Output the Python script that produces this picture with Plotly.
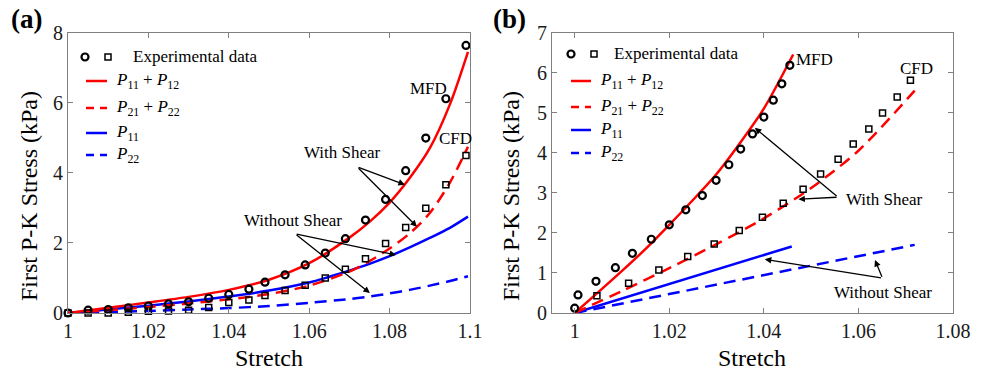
import plotly.graph_objects as go

# ---------------- panel (a) ----------------
a_exp_stretch = [1.0, 1.005, 1.01, 1.015, 1.02, 1.025, 1.03, 1.035, 1.04, 1.045, 1.049,
                 1.054, 1.059, 1.064, 1.069, 1.074, 1.079, 1.084, 1.089, 1.094, 1.099]
a_mfd_exp = [0.0, 0.08, 0.10, 0.15, 0.20, 0.26, 0.32, 0.42, 0.53, 0.68, 0.88,
             1.09, 1.37, 1.71, 2.12, 2.65, 3.24, 4.06, 4.99, 6.11, 7.63]
a_cfd_exp = [0.0, 0.0, 0.0, 0.02, 0.05, 0.06, 0.08, 0.16, 0.30, 0.37, 0.50,
             0.64, 0.79, 1.00, 1.25, 1.55, 1.98, 2.44, 2.99, 3.66, 4.49]

a_curve_s = [1.0, 1.01, 1.02, 1.03, 1.04, 1.05, 1.06, 1.07, 1.075, 1.08, 1.085, 1.09,
             1.095, 1.0995]
a_p1112 = [0.0, 0.15, 0.30, 0.46, 0.66, 0.95, 1.42, 2.15, 2.60, 3.15, 3.85, 4.70,
           5.95, 7.45]
a_p2122 = [0.0, 0.08, 0.17, 0.27, 0.39, 0.54, 0.78, 1.18, 1.48, 1.84, 2.27, 2.85,
           3.72, 4.74]
a_p11 = [0.0, 0.10, 0.21, 0.33, 0.47, 0.64, 0.87, 1.21, 1.40, 1.62, 1.87, 2.14,
         2.43, 2.75]
a_p22 = [0.0, 0.03, 0.06, 0.10, 0.14, 0.20, 0.29, 0.40, 0.47, 0.56, 0.66, 0.78,
         0.91, 1.05]

# ---------------- panel (b) ----------------
b_mfd_s = [1.0, 1.0007, 1.0045, 1.0086, 1.0122, 1.0162, 1.02, 1.0235, 1.027, 1.0299,
           1.0326, 1.0351, 1.0376, 1.04, 1.042, 1.0438, 1.0455]
b_mfd_v = [0.12, 0.45, 0.79, 1.13, 1.49, 1.84, 2.20, 2.575, 2.93, 3.31,
           3.70, 4.09, 4.47, 4.89, 5.31, 5.72, 6.18]
b_cfd_s = [1.0047, 1.0114, 1.0178, 1.0239, 1.0295, 1.0348, 1.0397, 1.0441, 1.0483,
           1.052, 1.0557, 1.0589, 1.0622, 1.0651, 1.0682, 1.071]
b_cfd_v = [0.43, 0.74, 1.075, 1.41, 1.725, 2.06, 2.39, 2.74, 3.09,
           3.47, 3.84, 4.22, 4.59, 4.99, 5.39, 5.81]

b_p1112_s = [1.0, 1.005, 1.01, 1.015, 1.02, 1.025, 1.03, 1.035, 1.04, 1.0462]
b_p1112_v = [0.0, 0.52, 1.05, 1.60, 2.20, 2.82, 3.47, 4.25, 5.10, 6.45]
b_p2122_s = [1.0, 1.01, 1.02, 1.03, 1.04, 1.05, 1.06, 1.0719]
b_p2122_v = [0.0, 0.55, 1.12, 1.72, 2.36, 3.12, 4.05, 5.55]
b_p11_s = [1.0, 1.0459]
b_p11_v = [0.0, 1.66]
b_p22_s = [1.0, 1.0719]
b_p22_v = [0.0, 1.70]

a_xticks = [1.0, 1.02, 1.04, 1.06, 1.08, 1.1]
a_xlabels = ["1", "1.02", "1.04", "1.06", "1.08", "1.1"]
b_xticks = [1.0, 1.02, 1.04, 1.06, 1.08]
b_xlabels = ["1", "1.02", "1.04", "1.06", "1.08"]

legend_labels = ["Experimental data",
                 "<i>P</i><sub>11</sub> + <i>P</i><sub>12</sub>",
                 "<i>P</i><sub>21</sub> + <i>P</i><sub>22</sub>",
                 "<i>P</i><sub>11</sub>",
                 "<i>P</i><sub>22</sub>"]

RED = "#ff0000"
BLUE = "#0000ff"
FONT = "Liberation Serif"
W, H = 986, 372
DASH = "12px,7px"


def px(x):
    return x / W


def py(y):
    return 1 - y / H


fig = go.Figure()


def add_line(s, v, color, dash, xa, ya):
    fig.add_trace(go.Scatter(x=s, y=v, mode="lines", xaxis=xa, yaxis=ya,
                             line=dict(color=color, width=2.5, dash=dash, shape="spline",
                                       smoothing=0.8),
                             showlegend=False, hoverinfo="skip"))


def add_points(s, v, symbol, size, lw, xa, ya):
    fig.add_trace(go.Scatter(x=s, y=v, mode="markers", xaxis=xa, yaxis=ya, cliponaxis=False,
                             marker=dict(symbol=symbol, size=size, color="black",
                                         line=dict(color="black", width=lw)),
                             showlegend=False, hoverinfo="skip"))


# panel (a)
add_line(a_curve_s, a_p22, BLUE, DASH, "x", "y")
add_line(a_curve_s, a_p11, BLUE, "solid", "x", "y")
add_line(a_curve_s, a_p2122, RED, DASH, "x", "y")
add_line(a_curve_s, a_p1112, RED, "solid", "x", "y")
add_points(a_exp_stretch, a_cfd_exp, "square-open", 6, 1.5, "x", "y")
add_points(a_exp_stretch, a_mfd_exp, "circle-open", 7, 2.2, "x", "y")

# panel (b)
add_line(b_p22_s, b_p22_v, BLUE, DASH, "x2", "y2")
add_line(b_p11_s, b_p11_v, BLUE, "solid", "x2", "y2")
add_line(b_p2122_s, b_p2122_v, RED, DASH, "x2", "y2")
add_line(b_p1112_s, b_p1112_v, RED, "solid", "x2", "y2")
add_points(b_cfd_s, b_cfd_v, "square-open", 6, 1.5, "x2", "y2")
add_points(b_mfd_s, b_mfd_v, "circle-open", 7, 2.2, "x2", "y2")

axis_common = dict(showline=True, linecolor="#808080", linewidth=1, mirror="ticks",
                   ticks="inside", ticklen=5, tickcolor="#808080", showgrid=False,
                   zeroline=False, automargin=False,
                   tickfont=dict(family=FONT, size=20, color="#1a1a1a"))

ydom = [py(313), py(32.5)]
fig.update_layout(
    width=W, height=H, margin=dict(l=0, r=0, t=0, b=0, pad=0, autoexpand=False),
    paper_bgcolor="white", plot_bgcolor="white", showlegend=False,
    xaxis=dict(domain=[px(68), px(470)], range=[1.0, 1.1], tickvals=a_xticks,
               ticktext=a_xlabels, anchor="y", **axis_common),
    yaxis=dict(domain=ydom, range=[0, 8], dtick=2, anchor="x", **axis_common),
    xaxis2=dict(domain=[px(552), px(953)], range=[0.9952, 1.08], tickvals=b_xticks,
                ticktext=b_xlabels, anchor="y2", **axis_common),
    yaxis2=dict(domain=ydom, range=[0, 7], dtick=1, anchor="x2", **axis_common),
)

ann = []
shapes = []


def text(x, y, s, size=17, xref="paper", yref="paper", xanchor="center", angle=0, bold=False):
    if bold:
        s = "<b>" + s + "</b>"
    ann.append(dict(x=x, y=y, xref=xref, yref=yref, text=s, showarrow=False,
                    xanchor=xanchor, yanchor="middle", textangle=angle,
                    font=dict(family=FONT, size=size, color="black")))


def arrow(head, tail, xref, yref):
    ann.append(dict(x=head[0], y=head[1], ax=tail[0], ay=tail[1], xref=xref, yref=yref,
                    axref=xref, ayref=yref, text="", showarrow=True, arrowhead=2,
                    arrowsize=1, arrowwidth=1.3, arrowcolor="black", standoff=0,
                    startstandoff=0))


# panel labels and axis titles
text(px(26), py(19), "(a)", size=27, bold=True)
text(px(509), py(19), "(b)", size=27, bold=True)
text(px(269), py(358), "Stretch", size=24)
text(px(752), py(358), "Stretch", size=24)
text(px(29), py(196), "First P-K Stress (kPa)", size=24, angle=-90)
text(px(511), py(196), "First P-K Stress (kPa)", size=24, angle=-90)

# curve annotations, panel (a)
text(1.0896, 6.4, "MFD", xref="x", yref="y")
text(1.0963, 4.97, "CFD", xref="x", yref="y")
text(1.0684, 4.57, "With Shear", xref="x", yref="y")
text(1.056, 2.63, "Without Shear", xref="x", yref="y")
arrow((1.0838, 3.66), (1.0719, 4.17), "x", "y")
arrow((1.0868, 2.46), (1.0719, 4.17), "x", "y")
arrow((1.0816, 1.657), (1.0565, 2.257), "x", "y")
arrow((1.0751, 0.571), (1.0565, 2.257), "x", "y")

# curve annotations, panel (b)
text(1.0508, 6.33, "MFD", xref="x2", yref="y2")
text(1.0723, 6.1, "CFD", xref="x2", yref="y2")
text(1.0656, 2.83, "With Shear", xref="x2", yref="y2")
text(1.0652, 0.5, "Without Shear", xref="x2", yref="y2")
arrow((1.0381, 4.62), (1.0557, 2.89), "x2", "y2")
arrow((1.0473, 2.84), (1.0557, 2.89), "x2", "y2")
arrow((1.0402, 1.34), (1.0651, 0.87), "x2", "y2")
arrow((1.0635, 1.325), (1.0651, 0.87), "x2", "y2")


# legends (one per panel)
def legend(cx, sx, ex_text, lx0, lx1, ltext, rows):
    y0 = rows[0]
    shapes.append(dict(type="circle", xref="paper", yref="paper",
                       x0=px(cx - 3.5), x1=px(cx + 3.5), y0=py(y0 + 3.5), y1=py(y0 - 3.5),
                       line=dict(color="black", width=2.2)))
    shapes.append(dict(type="rect", xref="paper", yref="paper",
                       x0=px(sx - 3), x1=px(sx + 3), y0=py(y0 + 3), y1=py(y0 - 3),
                       line=dict(color="black", width=1.5)))
    text(px(ex_text), py(y0), legend_labels[0], xanchor="left")
    styles = [(RED, "solid"), (RED, "8px,6px"), (BLUE, "solid"), (BLUE, "8px,6px")]
    for (col, dash), yy, lab in zip(styles, rows[1:], legend_labels[1:]):
        shapes.append(dict(type="line", xref="paper", yref="paper",
                           x0=px(lx0), x1=px(lx1), y0=py(yy), y1=py(yy),
                           line=dict(color=col, width=2.5, dash=dash)))
        text(px(ltext), py(yy), lab, xanchor="left")


legend(85, 108, 131, 86, 107, 114, [57, 81, 108, 133, 155])
legend(571, 594, 612, 571, 591, 598, [54, 81, 107, 130, 153])

fig.update_layout(annotations=ann, shapes=shapes)
fig.write_html("out.html", config={"responsive": False},
               post_script="document.body.style.margin='0';"
                           "document.body.style.overflow='hidden';")
